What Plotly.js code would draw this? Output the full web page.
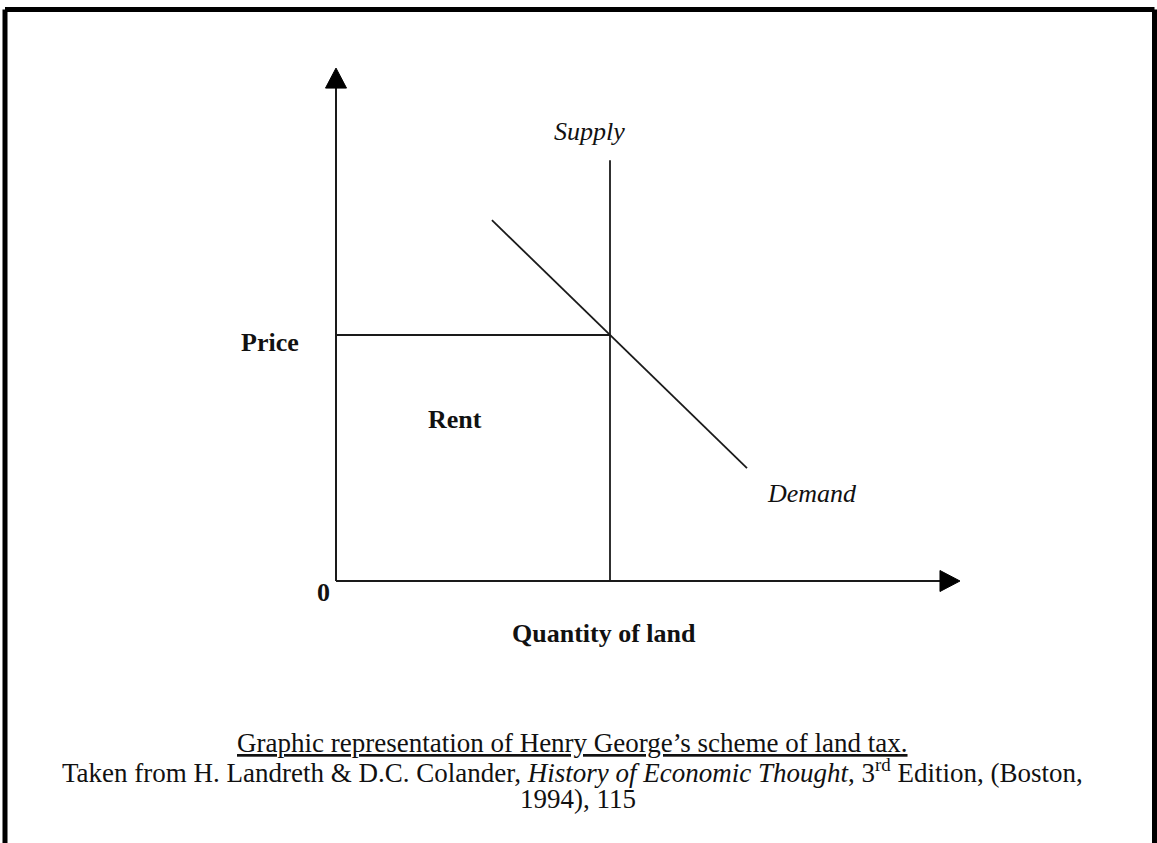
<!DOCTYPE html>
<html>
<head>
<meta charset="utf-8">
<script src="https://cdn.plot.ly/plotly-3.0.1.min.js"></script>
<style>
  html, body { margin: 0; padding: 0; background: #fff; }
  #chart { width: 1157px; height: 843px; }
</style>
</head>
<body>
<div id="chart"></div>
<script>
// ---- Data (economic units) ----
const supplyQ = [11, 11];
const supplyP = [0, 17.1];
const priceLineQ = [0, 11];
const priceLineP = [10, 10];
const demandQ = [6.26, 16.5];
const demandP = [14.67, 4.59];
const xAxisQ = [0, 25.05];
const xAxisP = [0, 0];
const yAxisQ = [0, 0];
const yAxisP = [0, 20.85];
const labelTexts = ["Supply", "Demand", "Price", "Rent", "0", "Quantity of land"];
const captionLines = [
  "Graphic representation of Henry George\u2019s scheme of land tax.",
  "Taken from H. Landreth & D.C. Colander, <i>History of Economic Thought</i>, 3<sup>rd</sup> Edition, (Boston,",
  "1994), 115"
];

// ---- Geometry / style ----
const W = 1157, H = 843;
const ox = 336, oy = 581;           // pixel origin
const pxPerQ = 274 / 11, pxPerP = 246 / 10;
const xRange = [-ox / pxPerQ, (W - ox) / pxPerQ];
const yRange = [-(H - oy) / pxPerP, oy / pxPerP];
const lineColor = "#1a1a1a";
const serif = "Liberation Serif, Times New Roman, serif";

const headLen = 20, headHalf = 10.5;
const xTip = xAxisQ[1], yTip = yAxisP[1];
const xHeadQ = [xTip, xTip - headLen / pxPerQ, xTip - headLen / pxPerQ, xTip];
const xHeadP = [0, headHalf / pxPerP, -headHalf / pxPerP, 0];
const yHeadQ = [0, headHalf / pxPerQ, -headHalf / pxPerQ, 0];
const yHeadP = [yTip, yTip - headLen / pxPerP, yTip - headLen / pxPerP, yTip];

function seg(x, y, w) {
  return {x: x, y: y, mode: "lines", type: "scatter", hoverinfo: "skip",
          line: {color: lineColor, width: w || 1.8}, showlegend: false};
}
function head(x, y) {
  return {x: x, y: y, mode: "lines", type: "scatter", fill: "toself", hoverinfo: "skip",
          fillcolor: "#000", line: {color: "#000", width: 1}, showlegend: false};
}

const data = [
  seg(xAxisQ.slice(0,1).concat([xTip - headLen / pxPerQ]), xAxisP, 2),
  seg(yAxisQ, yAxisP.slice(0,1).concat([yTip - headLen / pxPerP]), 2),
  seg(supplyQ, supplyP),
  seg(priceLineQ, priceLineP),
  seg(demandQ, demandP),
  head(xHeadQ, xHeadP),
  head(yHeadQ, yHeadP)
];

const q = px => (px - ox) / pxPerQ;
const p = py => (oy - py) / pxPerP;

const labelSize = 26, captionSize = 27;
const annotations = [
  {x: q(589), y: p(131), text: "<i>" + labelTexts[0] + "</i>", font: {size: labelSize}},
  {x: q(812), y: p(493), text: "<i>" + labelTexts[1] + "</i>", font: {size: labelSize}},
  {x: q(270), y: p(342), text: "<b>" + labelTexts[2] + "</b>", font: {size: labelSize}},
  {x: q(455), y: p(419), text: "<b>" + labelTexts[3] + "</b>", font: {size: labelSize}},
  {x: q(323), y: p(592), text: "<b>" + labelTexts[4] + "</b>", font: {size: labelSize}},
  {x: q(604), y: p(633), text: "<b>" + labelTexts[5] + "</b>", font: {size: labelSize}},
  {xref: "paper", yref: "paper", x: 572 / W, y: 1 - 743 / H, text: "<u>" + captionLines[0] + "</u>", font: {size: captionSize}},
  {xref: "paper", yref: "paper", x: 572 / W, y: 1 - 771 / H, text: captionLines[1], font: {size: captionSize}},
  {xref: "paper", yref: "paper", x: 578 / W, y: 1 - 799 / H, text: captionLines[2], font: {size: captionSize}}
].map(a => Object.assign({showarrow: false, xanchor: "center", yanchor: "middle"}, a, {
  font: Object.assign({family: serif, color: "#111"}, a.font)
}));

const bw = 5;
const shapes = [
  {type: "line", xref: "paper", yref: "paper", x0: 5 / W, y0: 0, x1: 5 / W, y1: 1 - 9.5 / H, line: {color: "#000", width: bw}},
  {type: "line", xref: "paper", yref: "paper", x0: 5 / W, y0: 1 - 9.5 / H, x1: 1154.5 / W, y1: 1 - 9.5 / H, line: {color: "#000", width: bw}},
  {type: "line", xref: "paper", yref: "paper", x0: 1154.5 / W, y0: 1 - 9.5 / H, x1: 1154.5 / W, y1: 0, line: {color: "#000", width: bw}}
];

const layout = {
  width: W, height: H,
  margin: {l: 0, r: 0, t: 0, b: 0},
  paper_bgcolor: "#fff", plot_bgcolor: "#fff",
  xaxis: {range: xRange, visible: false, fixedrange: true},
  yaxis: {range: yRange, visible: false, fixedrange: true},
  showlegend: false,
  annotations: annotations,
  shapes: shapes
};

Plotly.newPlot("chart", data, layout, {displayModeBar: false, staticPlot: true});
</script>
</body>
</html>
